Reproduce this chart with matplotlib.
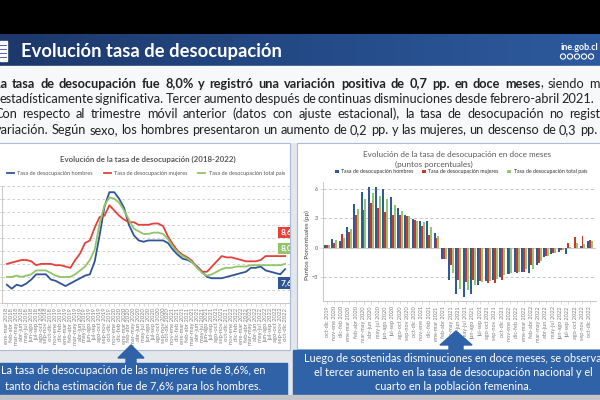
import numpy as np
import matplotlib.pyplot as plt
from matplotlib.colors import LinearSegmentedColormap
from matplotlib.patches import Rectangle, Polygon, Circle

plt.rcParams['font.family'] = ['Lato', 'DejaVu Sans']

MESES = ['ene', 'feb', 'mar', 'abr', 'may', 'jun', 'jul', 'ago', 'sep', 'oct', 'nov', 'dic']


def quarter_labels(year, month, n):
    # etiquetas de trimestres moviles, p.ej. "ene-mar 2018"
    out = []
    for k in range(n):
        m = year * 12 + month + k
        out.append(f"{MESES[m % 12]}-{MESES[(m + 2) % 12]} {(m + 2) // 12}")
    return out


# ---- grafico izquierdo: tasa de desocupacion (%) ----
etiquetas_nivel = quarter_labels(2018, 0, 58)
tasa_hombres = [6.4, 6.1, 6.4, 6.3, 6.5, 6.8, 7.2, 7.2, 7.2, 6.8,
                6.7, 6.5, 6.3, 6.5, 6.7, 6.9, 7.1, 7.2, 8.2, 10.2,
                12.4, 13.5, 13.5, 13.0, 12.3, 11.0, 10.2, 9.8, 9.7, 9.8,
                9.8, 9.8, 9.8, 9.6, 9.1, 8.7, 8.4, 8.3, 8.1, 7.8,
                7.4, 7.0, 6.9, 6.9, 6.9, 7.0, 7.1, 7.2, 7.3, 7.4,
                7.7, 7.7, 7.8, 7.5, 7.4, 7.3, 7.2, 7.6]
tasa_mujeres = [8.0, 8.1, 8.2, 8.3, 8.3, 8.2, 7.9, 8.0, 8.0, 8.0,
                7.9, 7.9, 7.8, 7.7, 8.3, 8.8, 9.6, 9.8, 10.8, 11.6,
                11.7, 12.5, 12.1, 11.7, 11.4, 11.2, 11.2, 11.0, 11.0, 11.0,
                11.1, 11.1, 10.9, 10.1, 9.5, 9.0, 8.7, 8.5, 8.2, 7.7,
                7.4, 7.4, 7.8, 8.2, 8.6, 8.5, 8.5, 8.4, 8.3, 8.2,
                8.2, 8.2, 8.3, 8.6, 8.6, 8.6, 8.6, 8.6]
tasa_total = [7.0, 7.0, 7.1, 7.0, 7.1, 7.2, 7.5, 7.5, 7.5, 7.3,
              7.1, 7.0, 7.0, 7.0, 7.2, 7.5, 7.8, 8.3, 9.1, 11.1,
              12.5, 13.1, 13.0, 12.7, 12.1, 11.4, 10.7, 10.5, 10.3, 10.3,
              10.4, 10.4, 10.3, 9.9, 9.3, 8.9, 8.6, 8.4, 8.1, 7.7,
              7.3, 7.1, 7.2, 7.4, 7.6, 7.7, 7.7, 7.8, 7.8, 7.8,
              7.9, 7.9, 7.9, 7.9, 7.9, 7.9, 7.9, 8.0]

# ---- grafico derecho: variacion en doce meses (pp) ----
etiquetas_var = quarter_labels(2019, 9, 37)
var_hombres = [0.3, 0.9, 0.7, 2.1, 4.5, 5.7, 6.2, 6.2, 6.0, 5.2,
               4.1, 3.3, 2.9, 2.7, 2.7, 1.5, -1.2, -3.3, -4.7, -5.0,
               -4.7, -3.8, -3.4, -3.3, -3.0, -2.7, -2.5, -2.5, -2.6, -1.8,
               -1.0, -0.7, -0.4, -0.6, 0.0, 0.2, 0.7]
var_mujeres = [0.3, 0.5, 1.4, 1.6, 3.3, 3.9, 4.6, 4.1, 3.6, 3.3,
               3.3, 3.2, 2.8, 2.2, 1.3, 1.0, -1.2, -1.8, -3.3, -3.5,
               -3.3, -3.4, -3.6, -3.6, -3.3, -2.7, -2.6, -2.5, -1.8, -1.6,
               -0.9, -0.5, -0.2, 0.5, 1.1, 1.2, 0.8]
var_total = [0.3, 0.8, 1.0, 1.9, 4.0, 5.0, 5.6, 5.3, 5.0, 4.4,
             3.8, 3.2, 2.7, 2.6, 2.1, 1.2, -1.2, -2.6, -4.2, -4.3,
             -3.8, -3.5, -3.4, -3.2, -2.8, -2.6, -2.5, -2.2, -2.2, -1.4,
             -0.9, -0.5, -0.2, 0.1, 0.5, 0.4, 0.7]

series = ['Tasa de desocupación hombres', 'Tasa de desocupación mujeres',
          'Tasa de desocupación total país']
col_lineas = ['#2f5597', '#e5413a', '#92c46a']
col_barras = ['#2d5a98', '#c9362a', '#93c572']

titulo = 'Evolución tasa de desocupación'
parrafo = [
    '**La tasa de desocupación fue 8,0% y registró una variación positiva de 0,7 pp. en doce meses**, siendo m',
    'estadísticamente significativa. Tercer aumento después de continuas disminuciones desde febrero-abril 2021.',
    'Con respecto al trimestre móvil anterior (datos con ajuste estacional), la tasa de desocupación no regist',
    'variación. Según sexo, los hombres presentaron un aumento de 0,2 pp. y las mujeres, un descenso de 0,3 pp.',
]
nota_izq = ['La tasa de desocupación de las mujeres fue de 8,6%, en',
            'tanto dicha estimación fue de 7,6% para los hombres.']
nota_der = ['Luego de sostenidas disminuciones en doce meses, se observa',
            'el tercer aumento en la tasa de desocupación nacional y el',
            'cuarto en la población femenina.']

W, H = 600, 400
BLUE_BOX = '#3062a8'


def fx(x):
    return x / W


def fy(y):
    return 1 - y / H


fig = plt.figure(figsize=(6, 4), dpi=100)

# background layer in pixel coordinates
bg = fig.add_axes([0, 0, 1, 1], zorder=0)
bg.axis('off')
bg.add_patch(Rectangle((0, 0), W, H, color='#e3e6eb', zorder=0))
bg.add_patch(Rectangle((0, 0), W, 34, color='black', zorder=1))
hdr = LinearSegmentedColormap.from_list('hdr', ['#1d386a', '#244a86', '#2d5a9e'])
bg.imshow(np.linspace(0, 1, 256)[None, :], extent=(0, W, 66, 34), cmap=hdr, aspect='auto', zorder=1)
bg.add_patch(Rectangle((0, 66), W, 76, color='#f7f8fa', zorder=1))
bg.add_patch(Rectangle((-3, 143), 293, 207, fc='white', ec='#a9bcd6', lw=0.8, zorder=1))
bg.add_patch(Rectangle((297, 143), 310, 206, fc='white', ec='#a9bcd6', lw=0.8, zorder=1))
bg.add_patch(Rectangle((-3, 363), 290, 32, color=BLUE_BOX, zorder=1))
bg.add_patch(Rectangle((293, 350), 312, 45, color=BLUE_BOX, zorder=1))
bg.add_patch(Rectangle((0, 395), W, 5, color='#c3c5c9', zorder=1))
bg.set_xlim(0, W)
bg.set_ylim(H, 0)

# ---- left chart ----
ax1 = fig.add_axes([fx(2), fy(303), fx(290) - fx(2), (303 - 185.7) / H], zorder=1)
ax1.patch.set_alpha(0)
x = np.arange(len(tasa_hombres))
for vals, c, lab in zip([tasa_hombres, tasa_mujeres, tasa_total], col_lineas, series):
    ax1.plot(x, vals, color=c, lw=1.3, label=lab)
ax1.set_xlim(-1, 58)
ax1.set_ylim(5, 14)
ax1.set_yticks(range(5, 15))
ax1.yaxis.grid(True, ls=(0, (3, 3)), color='#c9c9c9', lw=0.6)
ax1.set_axisbelow(True)
for s in ['top', 'right']:
    ax1.spines[s].set_visible(False)
for s in ['left', 'bottom']:
    ax1.spines[s].set_color('#bfbfbf')
    ax1.spines[s].set_linewidth(0.6)
ax1.set_xticks(x)
ax1.set_xticklabels(etiquetas_nivel, rotation=90, fontsize=4.2, color='#7f7f7f')
ax1.tick_params(axis='both', length=2, width=0.4, color='#bfbfbf', pad=1.5, labelsize=4.2)
ax1.tick_params(axis='y', labelleft=False)
ax1.legend(loc='center', bbox_to_anchor=(fx(146), fy(173)), bbox_transform=fig.transFigure,
           ncol=3, frameon=False, fontsize=4, handlelength=1.3, columnspacing=1.9,
           handletextpad=0.6, labelcolor='#595959')
fig.text(fx(148), fy(159), 'Evolución de la tasa de desocupación (2018-2022)', fontsize=5.7,
         weight='bold', color='#595959', ha='center', va='center')

# end value labels
for vals, c, dy in zip([tasa_mujeres, tasa_total, tasa_hombres], [col_lineas[1], col_lineas[2], col_lineas[0]],
                       [17, 11, -10]):
    ax1.annotate(f'{vals[-1]:.1f}'.replace('.', ','), xy=(x[-1], vals[-1]), xytext=(-3.5, dy),
                 textcoords='offset points', ha='left', va='center', fontsize=6, color='white',
                 weight='bold', annotation_clip=False, clip_on=True,
                 bbox=dict(boxstyle='square,pad=0.25', fc=c, ec='none'))

# ---- right chart ----
ax2 = fig.add_axes([fx(323), fy(301.4), (596 - 323) / W, (301.4 - 181.7) / H], zorder=1)
ax2.patch.set_alpha(0)
xg = np.arange(len(var_hombres))
bw = 0.27
for k, (vals, c, lab) in enumerate(zip([var_hombres, var_mujeres, var_total], col_barras, series)):
    ax2.bar(xg + (k - 1) * bw, vals, bw, color=c, label=lab, zorder=2)
ax2.set_xlim(-0.55, 36.85)
ax2.set_ylim(-5.5, 6.75)
ax2.set_yticks([-3, 0, 3, 6])
ax2.yaxis.grid(True, ls=(0, (3, 2.5)), color='#c4c4c4', lw=0.7)
ax2.axhline(0, color='#c8c8c8', lw=0.6, zorder=1)
ax2.set_axisbelow(True)
for s in ['top', 'right']:
    ax2.spines[s].set_visible(False)
for s in ['left', 'bottom']:
    ax2.spines[s].set_color('#bfbfbf')
    ax2.spines[s].set_linewidth(0.6)
ax2.set_xticks(xg)
ax2.set_xticklabels(etiquetas_var, rotation=90, fontsize=4, color='#7f7f7f')
ax2.tick_params(axis='both', length=2, width=0.4, color='#bfbfbf', pad=1.5, labelsize=4)
ax2.tick_params(axis='y', labelcolor='#595959')
ax2.set_ylabel('Puntos Porcentuales (pp)', fontsize=4.6, color='#404040')
ax2.yaxis.set_label_coords(-0.048, 0.47)
ax2.legend(loc='center', bbox_to_anchor=(fx(461), fy(172)), bbox_transform=fig.transFigure,
           ncol=3, frameon=False, fontsize=3.8, handlelength=0.7, handleheight=0.7,
           columnspacing=1.6, handletextpad=0.5, labelcolor='#303030')
fig.text(fx(457), fy(155), 'Evolución de la tasa de desocupación en doce meses', fontsize=5.9,
         color='#595959', ha='center', va='center')
fig.text(fx(434), fy(164), '(puntos porcentuales)', fontsize=5.9, color='#595959',
         ha='center', va='center')

# ---- overlay: header, arrows, notes ----
ov = fig.add_axes([0, 0, 1, 1], zorder=5)
ov.patch.set_alpha(0)
ov.axis('off')
ov.set_xlim(0, W)
ov.set_ylim(H, 0)
ov.add_patch(Rectangle((0, 41), 7, 20, color='white'))
for yy in [45, 49, 53, 57]:
    ov.plot([0, 6], [yy, yy], color='#2a4f8e', lw=0.6)
ov.text(579, 47, 'ine.gob.cl', color='white', fontsize=6.5, weight='bold', ha='center', va='center')
for cx in [563, 570, 577, 584, 591]:
    ov.add_patch(Circle((cx, 56.5), 2.6, fc='none', ec='white', lw=0.8))
ov.add_patch(Polygon([(126, 364), (126, 358), (118, 358), (131, 345), (144, 358), (136, 358), (136, 364)],
                     color=BLUE_BOX))
ov.add_patch(Polygon([(449, 351), (449, 345), (440, 345), (456, 331), (472, 345), (463, 345), (463, 351)],
                     color=BLUE_BOX))
ov.text(21, 51, titulo, color='white', fontsize=13.2, weight='bold', va='center', ha='left')
for yy, t in zip([371, 386], nota_izq):
    ov.text(133, yy, t, color='white', fontsize=7.8, ha='center', va='center')
for yy, t in zip([358, 372, 387], nota_der):
    ov.text(453, yy, t, color='white', fontsize=7.8, ha='center', va='center')

# justified paragraph
renderer = fig.canvas.get_renderer()


def parse_words(line):
    words = [[]]
    for k, chunk in enumerate(line.split('**')):
        weight = 'bold' if k % 2 == 1 else 'normal'
        for j, piece in enumerate(chunk.split(' ')):
            if j > 0:
                words.append([])
            if piece:
                words[-1].append((piece, weight))
    return [w for w in words if w]


def width_of(text, weight, size):
    t = fig.text(0, 0, text, fontsize=size, weight=weight)
    wd = t.get_window_extent(renderer=renderer).width
    t.remove()
    return wd


def justified(line, y, x0, x1, size=9.2, color='#222222'):
    words = parse_words(line)
    widths = [[width_of(p, wt, size) for p, wt in w] for w in words]
    total = sum(sum(w) for w in widths)
    gap = max((x1 - x0 - total) / (len(words) - 1), 1.8)
    xx = x0
    for w, ws in zip(words, widths):
        for (p, wt), pw in zip(w, ws):
            fig.text(fx(xx), fy(y + 3.5), p, fontsize=size, weight=wt, color=color,
                     va='baseline', zorder=6)
            xx += pw
        xx += gap


justified(parrafo[0], 84, -6, 600)
justified(parrafo[1], 99.5, -1, 594)
justified(parrafo[2], 115, -6, 600)
justified(parrafo[3], 130.5, -5, 597)

fig.savefig('out.png', dpi=100)
